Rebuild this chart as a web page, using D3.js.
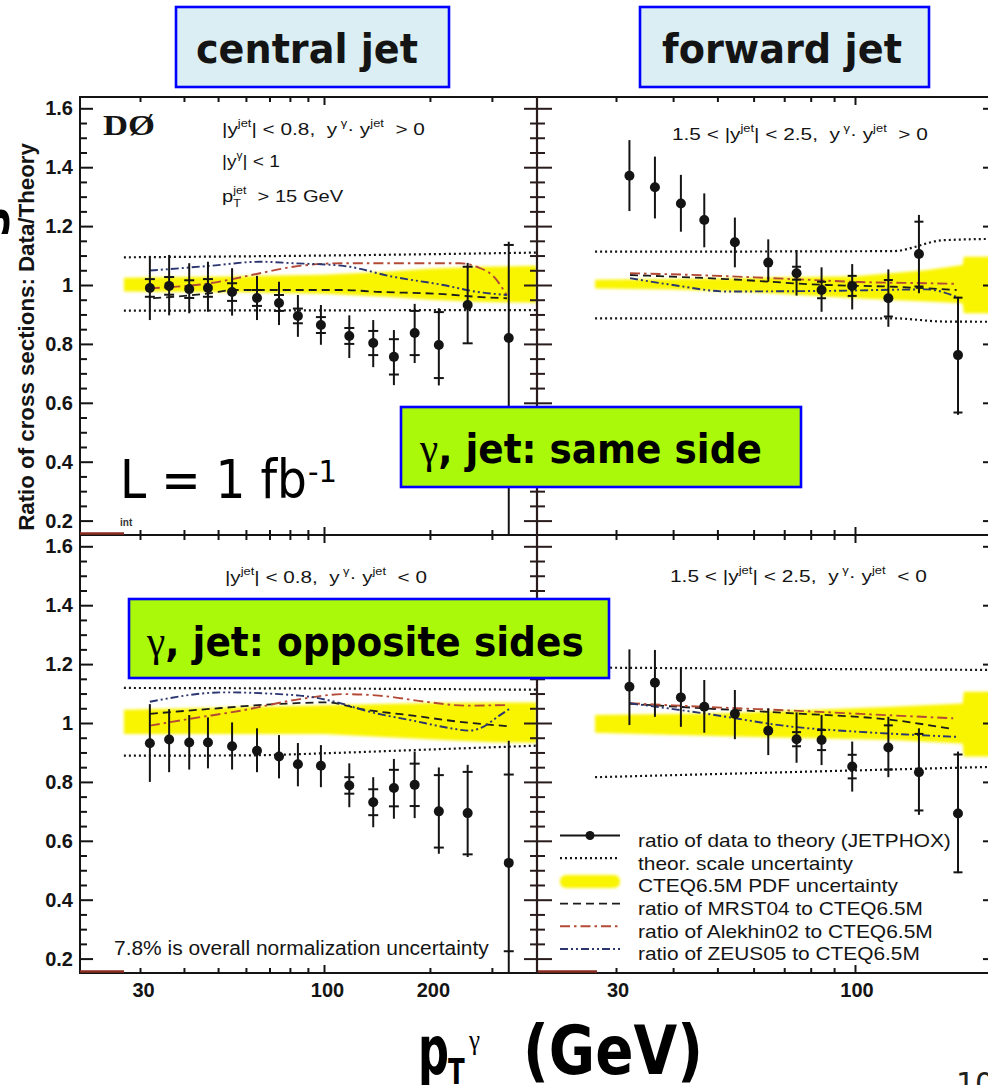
<!DOCTYPE html>
<html>
<head>
<meta charset="utf-8">
<title>Photon + jet cross sections: data / theory</title>
<script src="https://cdn.jsdelivr.net/npm/d3@7/dist/d3.min.js"></script>
<style>
  html, body { margin: 0; padding: 0; background: #ffffff; }
  svg { display: block; }
  text { white-space: pre; }
</style>
</head>
<body>
<svg id="chart" width="988" height="1085" viewBox="0 0 988 1085"></svg>
<script>
// ---------------- pT bin centres (GeV) ----------------
const ptCentral = [32.0, 36.3, 41.4, 46.8, 54.8, 64.5, 74.5, 84.3, 98.0, 118, 138, 158, 181, 212, 256, 335];
const ptForward = [32.1, 36.5, 41.6, 46.8, 54.6, 64.6, 74.5, 84.5, 98.6, 118.3, 138, 168];

// ---------------- central jet, same side ----------------
const ratioCS = [0.990, 0.997, 0.986, 0.990, 0.976, 0.956, 0.939, 0.895, 0.864, 0.827, 0.803, 0.756, 0.837, 0.796, 0.932, 0.820];
const errUpCS = [0.109, 0.105, 0.088, 0.089, 0.081, 0.075, 0.072, 0.071, 0.068, 0.070, 0.078, 0.091, 0.099, 0.125, 0.143, 0.327];
const errDnCS = [0.109, 0.100, 0.082, 0.081, 0.080, 0.075, 0.075, 0.071, 0.067, 0.075, 0.082, 0.096, 0.102, 0.137, 0.129, 0.750];
const statCS  = [0.030, 0.030, 0.030, 0.030, 0.030, 0.027, 0.027, 0.025, 0.027, 0.027, 0.041, 0.060, 0.075, 0.112, 0.130, 0.316];

// ---------------- forward jet, same side ----------------
const ratioFS = [1.371, 1.332, 1.277, 1.221, 1.145, 1.076, 1.040, 0.983, 0.997, 0.955, 1.105, 0.762];
const errUpFS = [0.121, 0.104, 0.097, 0.090, 0.084, 0.079, 0.079, 0.077, 0.074, 0.098, 0.133, 0.198];
const errDnFS = [0.120, 0.106, 0.096, 0.093, 0.085, 0.065, 0.076, 0.074, 0.080, 0.097, 0.133, 0.203];
const statFS  = [0.012, 0.012, 0.012, 0.012, 0.012, 0.012, 0.022, 0.028, 0.034, 0.062, 0.110, 0.195];

// ---------------- central jet, opposite sides ----------------
const ratioCO = [0.931, 0.944, 0.934, 0.934, 0.921, 0.906, 0.886, 0.860, 0.855, 0.788, 0.731, 0.779, 0.790, 0.700, 0.694, 0.525];
const errUpCO = [0.133, 0.103, 0.093, 0.085, 0.081, 0.076, 0.073, 0.072, 0.070, 0.075, 0.085, 0.099, 0.113, 0.149, 0.164, 0.415];
const errDnCO = [0.131, 0.111, 0.092, 0.088, 0.079, 0.073, 0.074, 0.075, 0.073, 0.074, 0.085, 0.104, 0.113, 0.144, 0.149, 0.600];
const statCO  = [0.015, 0.015, 0.015, 0.015, 0.015, 0.015, 0.015, 0.015, 0.015, 0.028, 0.044, 0.062, 0.072, 0.123, 0.140, 0.300];

// ---------------- forward jet, opposite sides ----------------
const ratioFO = [1.123, 1.137, 1.087, 1.055, 1.031, 0.974, 0.945, 0.942, 0.852, 0.917, 0.833, 0.693];
const errUpFO = [0.127, 0.111, 0.101, 0.091, 0.081, 0.076, 0.091, 0.085, 0.085, 0.104, 0.149, 0.210];
const errDnFO = [0.130, 0.116, 0.100, 0.088, 0.086, 0.083, 0.080, 0.085, 0.085, 0.101, 0.145, 0.203];
const statFO  = [0.012, 0.012, 0.012, 0.012, 0.012, 0.012, 0.024, 0.034, 0.040, 0.075, 0.130, 0.200];

// ---------------- CTEQ6.5M PDF uncertainty bands: [pT, low, high] ----------------
const pdfBandCS = [[27, 0.978, 1.025], [60, 0.975, 1.030], [100, 0.970, 1.035], [150, 0.960, 1.045], [200, 0.950, 1.055], [280, 0.942, 1.062], [402, 0.940, 1.065]];
const pdfBandFS = [[27, 0.988, 1.018], [40, 0.985, 1.020], [60, 0.975, 1.024], [100, 0.955, 1.030], [143, 0.944, 1.050], [172, 0.938, 1.068], [173, 0.904, 1.096], [210, 0.904, 1.096]];
const pdfBandCO = [[27, 0.963, 1.045], [100, 0.963, 1.060], [200, 0.945, 1.068], [300, 0.935, 1.070], [402, 0.933, 1.070]];
const pdfBandFO = [[27, 0.967, 1.027], [52, 0.955, 1.033], [121, 0.942, 1.055], [172, 0.930, 1.066], [173, 0.886, 1.106], [210, 0.886, 1.106]];

// ---------------- theoretical scale uncertainty: [pT, ratio] ----------------
const scaleHiCS = [[27, 1.094], [100, 1.100], [402, 1.110]];
const scaleLoCS = [[27, 0.913], [402, 0.915]];
const scaleHiFS = [[27, 1.113], [121, 1.115], [156, 1.152], [210, 1.157]];
const scaleLoFS = [[27, 0.887], [121, 0.887], [156, 0.876], [210, 0.875]];
const scaleHiCO = [[27, 1.119], [100, 1.117], [402, 1.113]];
const scaleLoCO = [[27, 0.889], [60, 0.890], [105, 0.898], [200, 0.910], [402, 0.923]];
const scaleHiFO = [[27, 1.188], [210, 1.180]];
const scaleLoFO = [[27, 0.816], [210, 0.852]];

// ---------------- alternative PDF sets relative to CTEQ6.5M: [pT, ratio] ----------------
const mrstCS = [[32.7, 0.955], [47.4, 0.972], [55.2, 0.983], [113.5, 0.983], [141, 0.977], [218, 0.969], [271, 0.960], [331, 0.955]];
const alekCS = [[32, 0.989], [47.4, 1.006], [65.8, 1.040], [81.8, 1.062], [113.5, 1.074], [243.5, 1.074], [271.4, 1.062], [302.8, 1.030], [331, 0.965]];
const zeusCS = [[32, 1.049], [47.4, 1.065], [65.8, 1.079], [81.8, 1.074], [113.5, 1.065], [157, 1.028], [218, 1.000], [271, 0.977], [331, 0.966]];

const mrstFS = [[32.2, 1.034], [52.4, 1.020], [86.7, 1.000], [121.3, 0.994], [166.8, 0.983]];
const alekFS = [[32.2, 1.040], [46.6, 1.033], [73.3, 1.020], [102.5, 1.010], [143.5, 1.006], [166.8, 1.004]];
const zeusFS = [[32.2, 1.023], [40, 1.000], [52.4, 0.978], [86.7, 0.980], [143.5, 0.985], [166.8, 0.960]];

const mrstCO = [[32, 1.031], [46.4, 1.047], [72.8, 1.064], [102, 1.070], [127.9, 1.047], [179.1, 1.025], [251.4, 1.002], [335.5, 0.989]];
const alekCO = [[32, 0.991], [41.5, 1.014], [58.1, 1.042], [85.3, 1.081], [114.3, 1.098], [143.1, 1.093], [200.6, 1.070], [251.4, 1.059], [335.5, 1.061]];
const zeusCO = [[32, 1.072], [51.9, 1.104], [85.3, 1.093], [109.2, 1.070], [130.8, 1.042], [179.1, 1.008], [234.9, 0.980], [257.1, 0.974], [281.4, 0.985], [314.9, 1.025], [335.5, 1.047]];

const mrstFO = [[32.2, 1.065], [46.6, 1.050], [73.3, 1.033], [121.3, 1.010], [164, 0.979]];
const alekFO = [[32.2, 1.067], [46.6, 1.055], [73.3, 1.042], [102.5, 1.031], [164, 1.016]];
const zeusFO = [[32.2, 1.067], [46.6, 1.033], [73.3, 0.987], [102.5, 0.970], [166.8, 0.953]];

// ---------------- axis ticks and labels ----------------
const yMajor = [0.2, 0.4, 0.6, 0.8, 1.0, 1.2, 1.4, 1.6];
const yMinor = d3.range(4, 33).map(i => +(i * 0.05).toFixed(2)).filter(v => Math.abs(v * 5 - Math.round(v * 5)) > 1e-6);
const xMinorCentral = [30, 40, 50, 60, 70, 80, 90, 200, 300];
const xMinorForward = [30, 40, 50, 60, 70, 80, 90, 200];
const xMajor = [100];
const xLabelsCentral = [30, 100, 200];
const xLabelsForward = [30, 100];

const panelTitles = ["central jet", "forward jet"];
const cutCS = [["|y"], ["jet", 1], ["| < 0.8,  y"], [" γ", 1], ["·"], [" y"], ["jet", 1], ["  > 0"]];
const cutCS2 = [["|y"], ["γ", 1], ["| < 1"]];
const cutFS = [["1.5 < |y"], ["jet", 1], ["| < 2.5,  y"], [" γ", 1], ["·"], [" y"], ["jet", 1], ["  > 0"]];
const cutCO = [["|y"], ["jet", 1], ["| < 0.8,  y"], [" γ", 1], ["·"], [" y"], ["jet", 1], ["  < 0"]];
const cutFO = [["1.5 < |y"], ["jet", 1], ["| < 2.5,  y"], [" γ", 1], ["·"], [" y"], ["jet", 1], ["  < 0"]];
const normText = "7.8% is overall normalization uncertainty";
const legendLabels = [
  "ratio of data to theory (JETPHOX)",
  "theor. scale uncertainty",
  "CTEQ6.5M PDF uncertainty",
  "ratio of MRST04 to CTEQ6.5M",
  "ratio of Alekhin02 to CTEQ6.5M",
  "ratio of ZEUS05 to CTEQ6.5M"
];

// ================= drawing =================
const SANS = "'Liberation Sans', Arial, Helvetica, sans-serif";
const SLIDE = "'DejaVu Sans', Verdana, sans-serif";
const SERIF = "'Liberation Serif', 'Times New Roman', serif";
const INK = "#141414";
const COL = { mrst: "#1c1c1c", alek: "#b34a36", zeus: "#2b3670", band: "#f9f400" };

const svg = d3.select("#chart");
const defs = svg.append("defs");
defs.append("filter").attr("id", "soft")
  .attr("x", "-10%").attr("y", "-60%").attr("width", "120%").attr("height", "220%")
  .append("feGaussianBlur").attr("stdDeviation", 1.6);

// log pT scales (central panels are narrower than the forward ones)
const xC = d3.scaleLog().domain([30, 100]).range([140, 324]);
const xF = d3.scaleLog().domain([30, 100]).range([616, 855]);
// ratio scales for the upper and lower rows
const yTop = d3.scaleLinear().domain([0.2, 1.0]).range([520.6, 285]);
const yBot = d3.scaleLinear().domain([0.2, 1.0]).range([958.6, 723]);

const panels = [
  { id: "cs", x: xC, y: yTop, x0: 80, x1: 537, y0: 97, y1: 535, pt: ptCentral, r: ratioCS, up: errUpCS, dn: errDnCS, st: statCS,
    band: pdfBandCS, sHi: scaleHiCS, sLo: scaleLoCS, mrst: mrstCS, alek: alekCS, zeus: zeusCS, tw: 10 },
  { id: "fs", x: xF, y: yTop, x0: 537, x1: 1001, y0: 97, y1: 535, pt: ptForward, r: ratioFS, up: errUpFS, dn: errDnFS, st: statFS,
    band: pdfBandFS, sHi: scaleHiFS, sLo: scaleLoFS, mrst: mrstFS, alek: alekFS, zeus: zeusFS, tw: 9 },
  { id: "co", x: xC, y: yBot, x0: 80, x1: 537, y0: 535, y1: 973, pt: ptCentral, r: ratioCO, up: errUpCO, dn: errDnCO, st: statCO,
    band: pdfBandCO, sHi: scaleHiCO, sLo: scaleLoCO, mrst: mrstCO, alek: alekCO, zeus: zeusCO, tw: 10 },
  { id: "fo", x: xF, y: yBot, x0: 537, x1: 1001, y0: 535, y1: 973, pt: ptForward, r: ratioFO, up: errUpFO, dn: errDnFO, st: statFO,
    band: pdfBandFO, sHi: scaleHiFO, sLo: scaleLoFO, mrst: mrstFO, alek: alekFO, zeus: zeusFO, tw: 9 }
];

const DOT_R = 5;

panels.forEach(p => {
  defs.append("clipPath").attr("id", "clip-" + p.id)
    .append("rect").attr("x", p.x0 + 1).attr("y", p.y0 + 1).attr("width", p.x1 - p.x0 - 2).attr("height", p.y1 - p.y0 - 2);

  const g = svg.append("g").attr("clip-path", `url(#clip-${p.id})`);

  // PDF uncertainty band
  const area = d3.area().x(d => p.x(d[0])).y0(d => p.y(d[1])).y1(d => p.y(d[2]));
  g.append("path").datum(p.band).attr("d", area).attr("fill", COL.band).attr("filter", "url(#soft)");

  // scale uncertainty (dotted)
  const line = d3.line().x(d => p.x(d[0])).y(d => p.y(d[1])).curve(d3.curveMonotoneX);
  [p.sHi, p.sLo].forEach(s => g.append("path").datum(s).attr("d", line)
    .attr("fill", "none").attr("stroke", INK).attr("stroke-width", 2.2).attr("stroke-dasharray", "2 3"));

  // alternative PDF ratios
  g.append("path").datum(p.mrst).attr("d", line).attr("fill", "none")
    .attr("stroke", COL.mrst).attr("stroke-width", 1.8).attr("stroke-dasharray", "8 5");
  g.append("path").datum(p.alek).attr("d", line).attr("fill", "none")
    .attr("stroke", COL.alek).attr("stroke-width", 1.9).attr("stroke-dasharray", "10 4 2.5 4");
  g.append("path").datum(p.zeus).attr("d", line).attr("fill", "none")
    .attr("stroke", COL.zeus).attr("stroke-width", 1.9).attr("stroke-dasharray", "8 3 2 3 2 3");

  // data / theory points with total and statistical error markers
  const pts = p.pt.map((pt, i) => ({ pt, v: p.r[i], up: p.up[i], dn: p.dn[i], st: p.st[i] }));
  const pg = g.append("g");
  pg.selectAll("line.err").data(pts).join("line").attr("class", "err")
    .attr("x1", d => p.x(d.pt)).attr("x2", d => p.x(d.pt))
    .attr("y1", d => p.y(d.v + d.up)).attr("y2", d => p.y(d.v - d.dn))
    .attr("stroke", INK).attr("stroke-width", 2);
  // statistical ticks that would sit inside the marker stay hidden behind it
  const visibleStat = pts.filter(d => Math.abs(p.y(d.v) - p.y(d.v + d.st)) > DOT_R + 1);
  [1, -1].forEach(sign => {
    pg.selectAll(null).data(visibleStat).join("line")
      .attr("x1", d => p.x(d.pt) - p.tw / 2).attr("x2", d => p.x(d.pt) + p.tw / 2)
      .attr("y1", d => p.y(d.v + sign * d.st)).attr("y2", d => p.y(d.v + sign * d.st))
      .attr("stroke", INK).attr("stroke-width", 2);
  });
  pg.selectAll("circle").data(pts).join("circle")
    .attr("cx", d => p.x(d.pt)).attr("cy", d => p.y(d.v)).attr("r", DOT_R).attr("fill", INK);
});

// ---------------- frames and axes ----------------
function tickGroup(gen, tx, ty, values, size, color) {
  const g = svg.append("g").attr("transform", `translate(${tx},${ty})`)
    .call(gen.tickValues(values).tickSize(-size).tickFormat(() => ""));
  g.select(".domain").remove();
  g.selectAll(".tick line").attr("stroke", color || INK).attr("stroke-width", 2);
  g.selectAll(".tick text").remove();
  return g;
}

const EDGE = "#2a1c1c";
panels.forEach(p => {
  const left = p.x0 === 80;
  // y ticks on both vertical sides
  tickGroup(d3.axisLeft(p.y), p.x0, 0, yMajor, left ? 13 : 15, left ? INK : EDGE);
  tickGroup(d3.axisLeft(p.y), p.x0, 0, yMinor, left ? 7 : 8, left ? INK : EDGE);
  tickGroup(d3.axisRight(p.y), p.x1, 0, yMajor, left ? 13 : 18, left ? EDGE : INK);
  tickGroup(d3.axisRight(p.y), p.x1, 0, yMinor, left ? 7 : 9, left ? EDGE : INK);
  // x ticks on top and bottom edges
  const minor = left ? xMinorCentral : xMinorForward;
  tickGroup(d3.axisTop(p.x), 0, p.y0, minor, 5);
  tickGroup(d3.axisTop(p.x), 0, p.y0, xMajor, 8);
  tickGroup(d3.axisBottom(p.x), 0, p.y1, minor, 5);
  tickGroup(d3.axisBottom(p.x), 0, p.y1, xMajor, 8);
});

// frames
panels.forEach(p => {
  svg.append("rect").attr("x", p.x0).attr("y", p.y0).attr("width", p.x1 - p.x0).attr("height", p.y1 - p.y0)
    .attr("fill", "none").attr("stroke", INK).attr("stroke-width", 2);
});
svg.append("line").attr("x1", 537).attr("x2", 537).attr("y1", 97).attr("y2", 973)
  .attr("stroke", EDGE).attr("stroke-width", 2.2);

// small dark red pad edges at the lower left corners
[[80, 124, 533.5], [80, 124, 971.5], [538, 597, 971.5]].forEach(s =>
  svg.append("line").attr("x1", s[0]).attr("x2", s[1]).attr("y1", s[2]).attr("y2", s[2])
    .attr("stroke", "#8a2c22").attr("stroke-width", 2.5));

// y tick labels
[yTop, yBot].forEach(ys => {
  const g = svg.append("g").attr("transform", "translate(80,0)")
    .call(d3.axisLeft(ys).tickValues(yMajor).tickSize(0).tickPadding(7)
      .tickFormat(d => Math.abs(d - 1) < 1e-9 ? "1" : d3.format(".1f")(d)));
  g.select(".domain").remove();
  g.selectAll("text").attr("font-family", SANS).attr("font-weight", "bold").attr("font-size", 20).attr("fill", INK);
});

// x tick labels
[[xC, xLabelsCentral, 3], [xF, xLabelsForward, 1.5]].forEach(([xs, vals, dx]) => {
  const g = svg.append("g").attr("transform", "translate(0,973)")
    .call(d3.axisBottom(xs).tickValues(vals).tickSize(0).tickPadding(10).tickFormat(d3.format("d")));
  g.select(".domain").remove();
  g.selectAll("text").attr("font-family", SANS).attr("font-weight", "bold").attr("font-size", 20)
    .attr("fill", INK).attr("dx", dx);
});

// ---------------- text helpers ----------------
function fitWidth(t, w) {
  const bb = t.node().getBBox();
  const k = w / bb.width;
  t.attr("transform", `translate(${bb.x},0) scale(${k},1) translate(${-bb.x},0)`);
}

function rich(parent, x, y, parts, o) {
  const t = parent.append("text").attr("x", x).attr("y", y)
    .attr("font-family", o.family || SANS).attr("font-size", o.size)
    .attr("font-weight", o.weight || "normal").attr("fill", o.fill || INK);
  let shift = 0;
  const lens = [];
  parts.forEach(p => {
    const m = p[1] || 0;
    const fs = m === 0 ? o.size : o.size * 0.62;
    const target = m > 0 ? -o.size * 0.45 : m < 0 ? o.size * 0.28 : 0;
    const ts = t.append("tspan").attr("font-size", fs).attr("dy", (target - shift).toFixed(2)).text(p[0]);
    if (p[2] === "under") ts.attr("dx", -lens[lens.length - 1]);
    if (p[2] === "after") ts.attr("dx", Math.max(0, lens[lens.length - 2] - lens[lens.length - 1]));
    lens.push(ts.node().getComputedTextLength());
    shift = target;
  });
  if (o.width) fitWidth(t, o.width);
  return t;
}

function plain(x, y, str, o) {
  const t = svg.append("text").attr("x", x).attr("y", y).text(str)
    .attr("font-family", o.family || SANS).attr("font-size", o.size)
    .attr("font-weight", o.weight || "normal").attr("fill", o.fill || INK);
  if (o.width) fitWidth(t, o.width);
  return t;
}

// ---------------- texts inside the plots ----------------
plain(103, 135, "DØ", { family: SERIF, size: 30, weight: "bold", width: 52 });
rich(svg, 222, 135, cutCS, { size: 17, width: 203 });
rich(svg, 222, 167, cutCS2, { size: 17, width: 58 });
rich(svg, 222, 202, [["p"], ["jet", 1], ["T", -1, "under"], ["  > 15 GeV", 0, "after"]], { size: 17, width: 122 });
rich(svg, 672, 140, cutFS, { size: 17, width: 256 });
rich(svg, 225, 583, cutCO, { size: 17, width: 202 });
rich(svg, 670, 582, cutFO, { size: 17, width: 257 });
plain(114, 955, normText, { size: 20, width: 375 });
plain(120, 526, "int", { size: 10, weight: "bold", fill: "#333" });

// legend
const legendG = svg.append("g");
const legendWidths = [313, 215, 260, 285, 295, 282];
const legendStrokes = [null, [INK, "2 3", 2.2], null, [COL.mrst, "8 5", 1.8], [COL.alek, "10 4 2.5 4", 1.9], [COL.zeus, "8 3 2 3 2 3", 1.9]];
legendLabels.forEach((lab, i) => {
  const base = 847 + i * 22.7;
  const sy = base - 11.5;
  const t = legendG.append("text").attr("x", 638).attr("y", base).text(lab)
    .attr("font-family", SANS).attr("font-size", 18).attr("fill", INK);
  fitWidth(t, legendWidths[i]);
  if (i === 0) {
    legendG.append("line").attr("x1", 560).attr("x2", 620).attr("y1", sy).attr("y2", sy).attr("stroke", INK).attr("stroke-width", 2);
    legendG.append("circle").attr("cx", 590).attr("cy", sy).attr("r", 4.5).attr("fill", INK);
  } else if (i === 2) {
    legendG.append("rect").attr("x", 560).attr("y", sy - 6).attr("width", 60).attr("height", 13).attr("rx", 6)
      .attr("fill", COL.band).attr("filter", "url(#soft)");
  } else {
    const st = legendStrokes[i];
    legendG.append("line").attr("x1", 560).attr("x2", 620).attr("y1", sy).attr("y2", sy)
      .attr("stroke", st[0]).attr("stroke-dasharray", st[1]).attr("stroke-width", st[2]);
  }
});

// y axis title
{
  const t = svg.append("text").attr("transform", "translate(34,337) rotate(-90)")
    .attr("text-anchor", "middle").attr("font-family", SANS).attr("font-weight", "bold")
    .attr("font-size", 21.5).attr("fill", INK).text("Ratio of cross sections: Data/Theory");
  const w = t.node().getComputedTextLength();
  t.attr("transform", `translate(34,337) rotate(-90) scale(${388 / w},1)`);
}

// ---------------- slide annotations ----------------
function box(x, y, w, h, fill) {
  svg.append("rect").attr("x", x).attr("y", y).attr("width", w).attr("height", h)
    .attr("fill", fill).attr("stroke", "#0000ff").attr("stroke-width", 2.6);
}
box(176, 7, 273, 80, "#daeef3");
box(640, 7, 289, 80, "#daeef3");
plain(196, 63, panelTitles[0], { family: SLIDE, size: 41, weight: "bold", width: 222 });
plain(662, 63, panelTitles[1], { family: SLIDE, size: 41, weight: "bold", width: 240 });

box(401, 407, 400, 80, "#aaf80a");
box(129, 599, 480, 79, "#aaf80a");
{
  const t1 = svg.append("text").attr("x", 420).attr("y", 463).attr("font-family", SLIDE)
    .attr("font-weight", "bold").attr("font-size", 40).attr("fill", "#000");
  t1.append("tspan").attr("font-family", SERIF).attr("font-weight", "normal").attr("font-size", 44).text("γ");
  t1.append("tspan").text(", jet: same side");
  fitWidth(t1, 343);
  const t2 = svg.append("text").attr("x", 147).attr("y", 656).attr("font-family", SLIDE)
    .attr("font-weight", "bold").attr("font-size", 40).attr("fill", "#000");
  t2.append("tspan").attr("font-family", SERIF).attr("font-weight", "normal").attr("font-size", 44).text("γ");
  t2.append("tspan").text(", jet: opposite sides");
  fitWidth(t2, 438);
}

// integrated luminosity
plain(120, 498, "L = 1 fb", { family: SLIDE, size: 53, width: 187, fill: "#000" });
plain(308, 482, "-1", { family: SLIDE, size: 31, width: 29, fill: "#000" });

// x axis title
plain(418, 1074, "p", { family: SLIDE, size: 68, weight: "bold", width: 31, fill: "#000" });
plain(448, 1084, "T", { family: SLIDE, size: 36, weight: "bold", width: 17, fill: "#000" });
plain(469, 1049, "γ", { family: SERIF, size: 27, width: 12, fill: "#000" });
plain(523, 1074, "(GeV)", { family: SLIDE, size: 68, weight: "bold", width: 180, fill: "#000" });

// fragments at the slide edges
svg.append("text").attr("transform", "translate(9,222) rotate(-90)").attr("text-anchor", "middle")
  .attr("font-family", SLIDE).attr("font-weight", "bold").attr("font-size", 50).attr("fill", "#000").text("s");
plain(956, 1094, "10", { family: SLIDE, size: 30, fill: "#222" });
</script>
</body>
</html>
